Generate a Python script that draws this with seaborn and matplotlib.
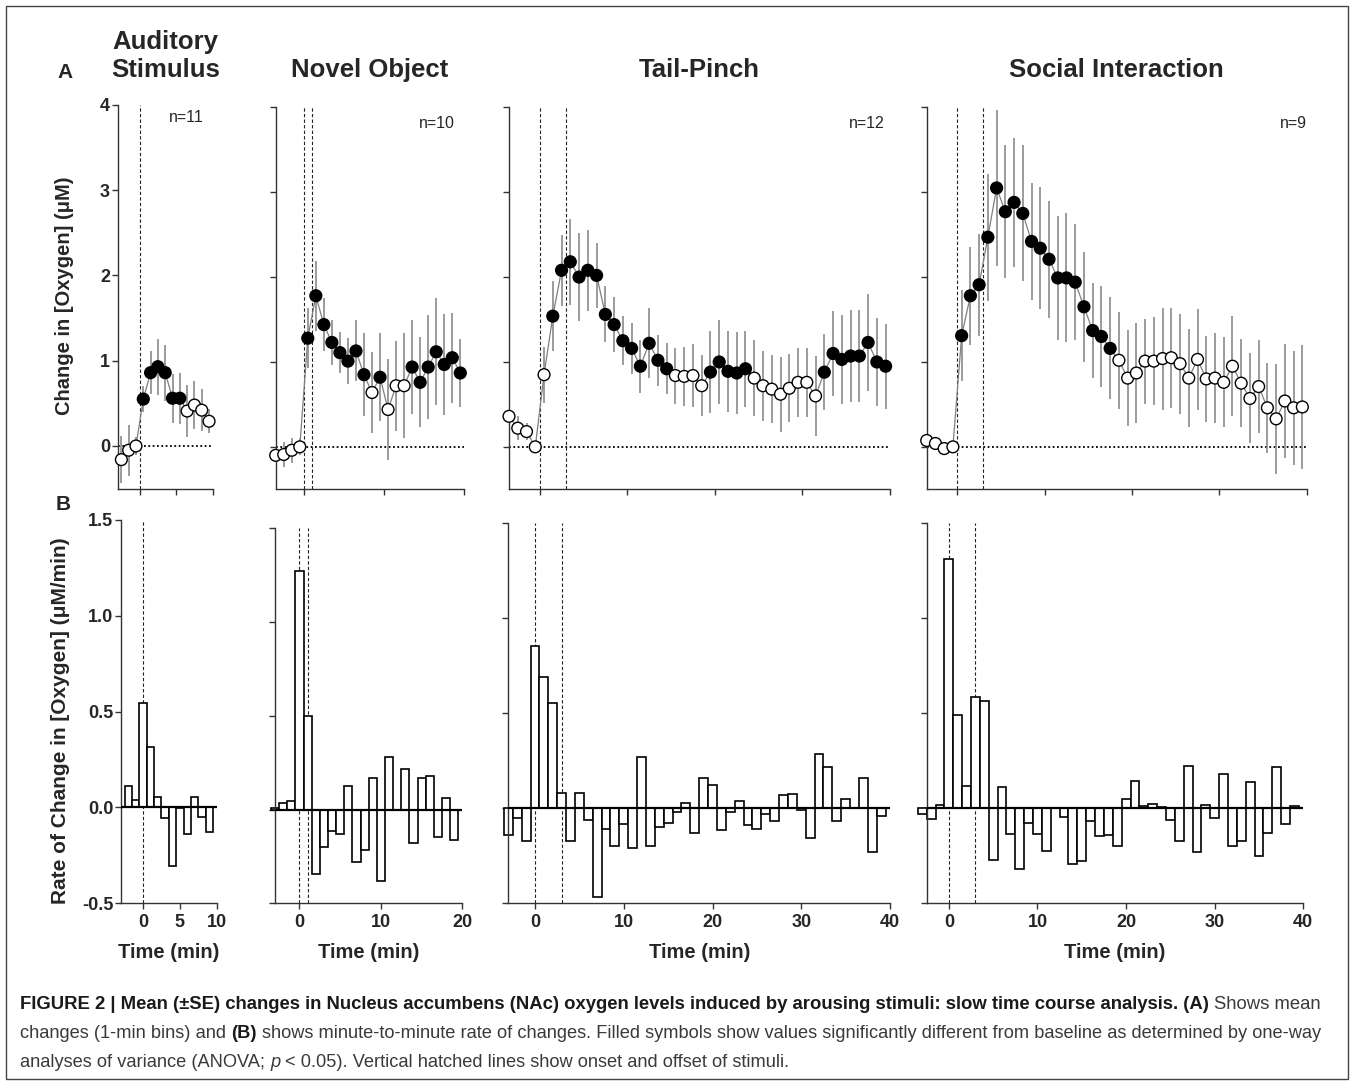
import numpy as np
import pandas as pd
import matplotlib
matplotlib.use("Agg")
import matplotlib.pyplot as plt
from matplotlib.patches import Rectangle
import seaborn as sns

# ---------------------------------------------------------------- data
panel_titles = ["Auditory\nStimulus", "Novel Object", "Tail-Pinch", "Social Interaction"]
n_labels = ["n=11", "n=10", "n=12", "n=9"]

# (A) mean change in [O2] (uM), 1-min bins, +/- SE, significance (1 = filled)
aud_time = np.arange(-2.5, 10, 1.0)
aud_mean = [-0.16, -0.05, 0.0, 0.55, 0.86, 0.93, 0.86, 0.56, 0.56, 0.41, 0.48, 0.42, 0.29]
aud_se = [0.28, 0.30, 0.10, 0.15, 0.25, 0.33, 0.33, 0.29, 0.30, 0.31, 0.28, 0.25, 0.14]
aud_sig = [0, 0, 0, 1, 1, 1, 1, 1, 1, 0, 0, 0, 0]

nov_time = np.arange(-3.5, 20, 1.0)
nov_mean = [-0.10, -0.09, -0.04, 0.0, 1.28, 1.78, 1.44, 1.23, 1.11, 1.01, 1.13, 0.85,
            0.64, 0.82, 0.44, 0.72, 0.72, 0.94, 0.76, 0.94, 1.12, 0.97, 1.05, 0.87]
nov_se = [0.08, 0.15, 0.15, 0.10, 0.35, 0.41, 0.31, 0.26, 0.24, 0.27, 0.36, 0.49,
          0.48, 0.52, 0.60, 0.53, 0.62, 0.55, 0.53, 0.61, 0.63, 0.59, 0.53, 0.40]
nov_sig = [0, 0, 0, 0, 1, 1, 1, 1, 1, 1, 1, 1, 0, 1, 0, 0, 0, 1, 1, 1, 1, 1, 1, 1]

tail_time = np.arange(-3.5, 40, 1.0)
tail_mean = [0.36, 0.22, 0.18, 0.0, 0.85, 1.54, 2.08, 2.18, 2.00, 2.08, 2.02, 1.56,
             1.44, 1.25, 1.16, 0.95, 1.22, 1.02, 0.92, 0.84, 0.83, 0.84, 0.72, 0.88,
             1.00, 0.89, 0.87, 0.92, 0.81, 0.72, 0.68, 0.62, 0.69, 0.76, 0.76, 0.60,
             0.88, 1.10, 1.03, 1.07, 1.07, 1.23, 1.00, 0.95]
tail_se = [0.10, 0.14, 0.10, 0.05, 0.33, 0.41, 0.42, 0.51, 0.52, 0.48, 0.38, 0.33,
           0.32, 0.29, 0.30, 0.31, 0.41, 0.30, 0.30, 0.33, 0.35, 0.37, 0.36, 0.48,
           0.50, 0.48, 0.48, 0.45, 0.45, 0.41, 0.40, 0.44, 0.40, 0.41, 0.41, 0.47,
           0.45, 0.50, 0.52, 0.54, 0.54, 0.57, 0.52, 0.50]
tail_sig = [0, 0, 0, 0, 0, 1, 1, 1, 1, 1, 1, 1, 1, 1, 1, 1, 1, 1, 1, 0, 0, 0, 0, 1,
            1, 1, 1, 1, 0, 0, 0, 0, 0, 0, 0, 0, 1, 1, 1, 1, 1, 1, 1, 1]

soc_time = np.arange(-3.5, 40, 1.0)
soc_mean = [0.075, 0.04, -0.02, 0.0, 1.31, 1.78, 1.91, 2.47, 3.05, 2.77, 2.88, 2.75,
            2.42, 2.34, 2.21, 1.99, 1.99, 1.94, 1.65, 1.37, 1.30, 1.16, 1.02, 0.81,
            0.87, 1.01, 1.01, 1.04, 1.05, 0.98, 0.81, 1.03, 0.80, 0.81, 0.76, 0.95,
            0.75, 0.57, 0.71, 0.46, 0.33, 0.54, 0.46, 0.47]
soc_se = [0.06, 0.08, 0.05, 0.05, 0.54, 0.58, 0.60, 0.75, 0.92, 0.78, 0.76, 0.80,
          0.69, 0.72, 0.69, 0.73, 0.76, 0.68, 0.65, 0.56, 0.59, 0.60, 0.57, 0.57,
          0.59, 0.50, 0.52, 0.60, 0.59, 0.59, 0.58, 0.59, 0.51, 0.53, 0.53, 0.59,
          0.52, 0.53, 0.55, 0.53, 0.65, 0.67, 0.67, 0.73]
soc_sig = [0, 0, 0, 0] + [1] * 18 + [0] * 22

# (B) minute-to-minute rate of change (uM/min)
aud_rate_time = np.arange(-2, 10)
aud_rate = [0.113, 0.04, 0.546, 0.317, 0.056, -0.057, -0.305, -0.005, -0.136, 0.056, -0.052, -0.127]

nov_rate_time = np.arange(-3, 20)
nov_rate = [0.01, 0.037, 0.043, 1.274, 0.50, -0.345, -0.20, -0.114, -0.128, 0.126, -0.28, -0.217,
            0.17, -0.38, 0.28, 0.0, 0.217, -0.176, 0.17, 0.178, -0.146, 0.062, -0.164]

tail_rate_time = np.arange(-3, 40)
tail_rate = [-0.14, -0.053, -0.175, 0.854, 0.69, 0.55, 0.082, -0.17, 0.079, -0.061, -0.465,
             -0.11, -0.20, -0.082, -0.21, 0.27, -0.198, -0.10, -0.079, -0.018, 0.026, -0.13,
             0.16, 0.123, -0.114, -0.018, 0.04, -0.088, -0.11, -0.03, -0.065, 0.067, 0.074,
             -0.012, -0.158, 0.286, 0.214, -0.07, 0.047, 0.0, 0.158, -0.228, -0.04]

soc_rate_time = np.arange(-3, 40)
soc_rate = [-0.03, -0.058, 0.018, 1.31, 0.49, 0.118, 0.584, 0.561, -0.275, 0.11, -0.137,
            -0.32, -0.079, -0.137, -0.225, 0.0, -0.044, -0.295, -0.277, -0.065, -0.144, -0.14,
            -0.20, 0.047, 0.144, 0.009, 0.023, 0.005, -0.061, -0.17, 0.219, -0.232, 0.018,
            -0.053, 0.18, -0.20, -0.175, 0.14, -0.25, -0.13, 0.214, -0.082, 0.012]

# stimulus onset / offset (min)
aud_stim = [0]
nov_stim = [0, 1]
tail_stim = [0, 3]
soc_stim = [0, 3]

a_yticks = [0, 1, 2, 3, 4]
b_yticks = [-0.5, 0.0, 0.5, 1.0, 1.5]
b_yticklabels = ["-0.5", "0.0", "0.5", "1.0", "1.5"]

caption_lines = [
    [("FIGURE 2 | Mean (\u00b1SE) changes in Nucleus accumbens (NAc) oxygen levels induced by arousing "
      "stimuli: slow time course analysis. (A)", "bold", "normal"), (" Shows mean", "normal", "normal")],
    [("changes (1-min bins) and ", "normal", "normal"), ("(B)", "bold", "normal"),
     (" shows minute-to-minute rate of changes. Filled symbols show values significantly different "
      "from baseline as determined by one-way", "normal", "normal")],
    [("analyses of variance (ANOVA; ", "normal", "normal"), ("p", "normal", "italic"),
     (" < 0.05). Vertical hatched lines show onset and offset of stimuli.", "normal", "normal")],
]

# ---------------------------------------------------------------- style
sns.set_theme(style="ticks")
plt.rcParams["font.family"] = ["Liberation Sans", "DejaVu Sans"]
CAP_FONT = ["Liberation Sans Narrow", "Liberation Sans", "DejaVu Sans"]
SPINE = "#333333"
TICK_FS = 13

W, H = 1354, 1085
fig = plt.figure(figsize=(W / 100, H / 100), dpi=100)
fig.patch.set_facecolor("white")


def box(l, r, t, b):
    return [l / W, 1 - b / H, (r - l) / W, (b - t) / H]


def fx(x):
    return x / W


def fy(y):
    return 1 - y / H


layout = [
    dict(boxA=(117.7, 212.7, 105.0, 488.6), xlimA=(-3, 10), boxB=(121.0, 216.7, 520.0, 903.3), xlimB=(-3, 10),
         xticks=[0, 5, 10], npos=(186.7, 117)),
    dict(boxA=(275.7, 464.3, 107.3, 489.3), xlimA=(-3.5, 20), boxB=(275.0, 462.3, 528.3, 903.3), xlimB=(-3, 20),
         xticks=[0, 10, 20], npos=(437, 123)),
    dict(boxA=(509.0, 890.0, 107.3, 489.3), xlimA=(-3.5, 40), boxB=(508.4, 890.0, 522.7, 903.3), xlimB=(-3, 40),
         xticks=[0, 10, 20, 30, 40], npos=(867, 123)),
    dict(boxA=(926.7, 1306.7, 107.3, 489.3), xlimA=(-3.5, 40), boxB=(926.7, 1303.3, 522.7, 903.3), xlimB=(-2.5, 40),
         xticks=[0, 10, 20, 30, 40], npos=(1293, 123)),
]

series = [
    (aud_time, aud_mean, aud_se, aud_sig, aud_rate_time, aud_rate, aud_stim),
    (nov_time, nov_mean, nov_se, nov_sig, nov_rate_time, nov_rate, nov_stim),
    (tail_time, tail_mean, tail_se, tail_sig, tail_rate_time, tail_rate, tail_stim),
    (soc_time, soc_mean, soc_se, soc_sig, soc_rate_time, soc_rate, soc_stim),
]


def style_axis(ax):
    sns.despine(ax=ax)
    for s in ("left", "bottom"):
        ax.spines[s].set_color(SPINE)
        ax.spines[s].set_linewidth(1.0)
    ax.tick_params(direction="out", length=4, width=1.0, color=SPINE, labelsize=TICK_FS, pad=1.5)
    ax.set_xlabel("")
    ax.set_ylabel("")
    ax.grid(False)


for i, (lay, ser) in enumerate(zip(layout, series)):
    t, m, se, sig, rt, rate, stim = ser
    df = pd.DataFrame({"time": t, "mean": m, "se": se, "sig": sig})
    dfr = pd.DataFrame({"time": rt, "rate": rate})

    # ---------- panel A
    axA = fig.add_axes(box(*lay["boxA"]))
    axA.axhline(0, color="black", lw=1.3, ls=(0, (1, 1.4)), zorder=1)
    for s in stim:
        axA.axvline(s, color="#222222", lw=0.8, ls=(0, (3, 2)), zorder=1)
    axA.vlines(df["time"], df["mean"] - df["se"], df["mean"] + df["se"],
               color="#8a8a8a", lw=1.2, zorder=2)
    sns.lineplot(data=df, x="time", y="mean", color="#7f7f7f", lw=0.9,
                 errorbar=None, ax=axA, zorder=3)
    sns.scatterplot(data=df, x="time", y="mean", hue="sig", palette={0: "white", 1: "black"},
                    edgecolor="black", linewidth=1.0, s=72, legend=False, ax=axA,
                    zorder=4, clip_on=False)
    axA.set_xlim(*lay["xlimA"])
    axA.set_ylim(-0.5, 4)
    axA.set_xticks(lay["xticks"])
    axA.set_xticklabels([])
    axA.set_yticks(a_yticks)
    style_axis(axA)
    if i == 0:
        axA.set_yticklabels([str(v) for v in a_yticks], fontweight="bold", fontsize=TICK_FS)
    else:
        axA.set_yticklabels([])
    nx, ny = lay["npos"]
    fig.text(fx(nx), fy(ny), n_labels[i], ha="center", va="center", fontsize=11.5)

    # ---------- panel B
    axB = fig.add_axes(box(*lay["boxB"]))
    for s in stim:
        axB.axvline(s, color="#222222", lw=0.8, ls=(0, (3, 2)), zorder=1)
    sns.barplot(data=dfr, x="time", y="rate", native_scale=True, orient="x", width=1.0,
                color="white", saturation=1, edgecolor="black", linewidth=1.2,
                errorbar=None, ax=axB, zorder=2)
    for patch in axB.patches:
        patch.set_clip_on(False)
    axB.axhline(0, color="black", lw=1.6, zorder=3)
    axB.set_xlim(*lay["xlimB"])
    axB.set_ylim(-0.5, 1.5)
    axB.set_xticks(lay["xticks"])
    axB.set_xticklabels([str(v) for v in lay["xticks"]], fontweight="bold", fontsize=TICK_FS)
    axB.set_yticks(b_yticks)
    style_axis(axB)
    axB.tick_params(axis="x", pad=4)
    if i == 0:
        axB.set_yticklabels(b_yticklabels, fontweight="bold", fontsize=TICK_FS)
    else:
        axB.set_yticklabels([])
    l, r, tp, b = lay["boxB"]
    fig.text(fx((l + r) / 2), fy(952), "Time (min)", ha="center", va="center",
             fontsize=14.5, fontweight="bold")

    # ---------- titles
    lA, rA = lay["boxA"][0], lay["boxA"][1]
    lines = panel_titles[i].split("\n")
    if len(lines) == 2:
        ys = [42, 70]
    else:
        ys = [70]
    for txt, yy in zip(lines, ys):
        fig.text(fx((lA + rA) / 2), fy(yy), txt, ha="center", va="center",
                 fontsize=18.5, fontweight="bold")

# y labels and panel letters
fig.text(fx(64), fy(296), "Change in [Oxygen] (\u03bcM)", rotation=90, ha="center", va="center",
         fontsize=14.5, fontweight="bold")
fig.text(fx(61), fy(721), "Rate of Change in [Oxygen] (\u03bcM/min)", rotation=90, ha="center",
         va="center", fontsize=15, fontweight="bold")
fig.text(fx(65), fy(73), "A", ha="center", va="center", fontsize=15, fontweight="bold")
fig.text(fx(63), fy(505), "B", ha="center", va="center", fontsize=15, fontweight="bold")

# ---------------------------------------------------------------- caption
renderer = fig.canvas.get_renderer()


def seg_width(text, fs, weight, style):
    tt = fig.text(0, 0, text, fontsize=fs, fontweight=weight, fontstyle=style, family=CAP_FONT)
    w = tt.get_window_extent(renderer).width
    tt.remove()
    return w


def space_width(fs, weight, style):
    return seg_width("a a", fs, weight, style) - seg_width("aa", fs, weight, style)


def line_layout(segs, fs):
    items = []
    x = 0.0
    for text, weight, style in segs:
        sw = space_width(fs, weight, style)
        lead = len(text) - len(text.lstrip(" "))
        trail = len(text) - len(text.rstrip(" "))
        x += lead * sw
        core = text.strip(" ")
        items.append((x, core, weight, style))
        x += seg_width(core, fs, weight, style) + trail * sw
    return items, x


def draw_line(segs, x0, ybase, fs):
    items, _ = line_layout(segs, fs)
    for dx, core, weight, style in items:
        color = "#1a1a1a" if weight == "bold" else "#3a3a3a"
        fig.text(fx(x0 + dx), fy(ybase), core, fontsize=fs, fontweight=weight, fontstyle=style,
                 family=CAP_FONT, ha="left", va="baseline", color=color)


x_left, x_right = 20, 1325
_, w1 = line_layout(caption_lines[0], 10)
fs1 = 10 * (x_right - x_left) / w1
_, w2 = line_layout(caption_lines[1], 10)
fs2 = 10 * (x_right - 2 - x_left) / w2
draw_line(caption_lines[0], x_left, 1009, fs1)
draw_line(caption_lines[1], x_left, 1038, fs2)
draw_line(caption_lines[2], x_left, 1067, fs2)

# outer frame
fig.patches.append(Rectangle((fx(6), fy(1079)), (1348 - 6) / W, (1079 - 6) / H,
                             transform=fig.transFigure, fill=False, edgecolor="#444444", lw=1.0))

fig.savefig("out.png", dpi=100, facecolor="white")
